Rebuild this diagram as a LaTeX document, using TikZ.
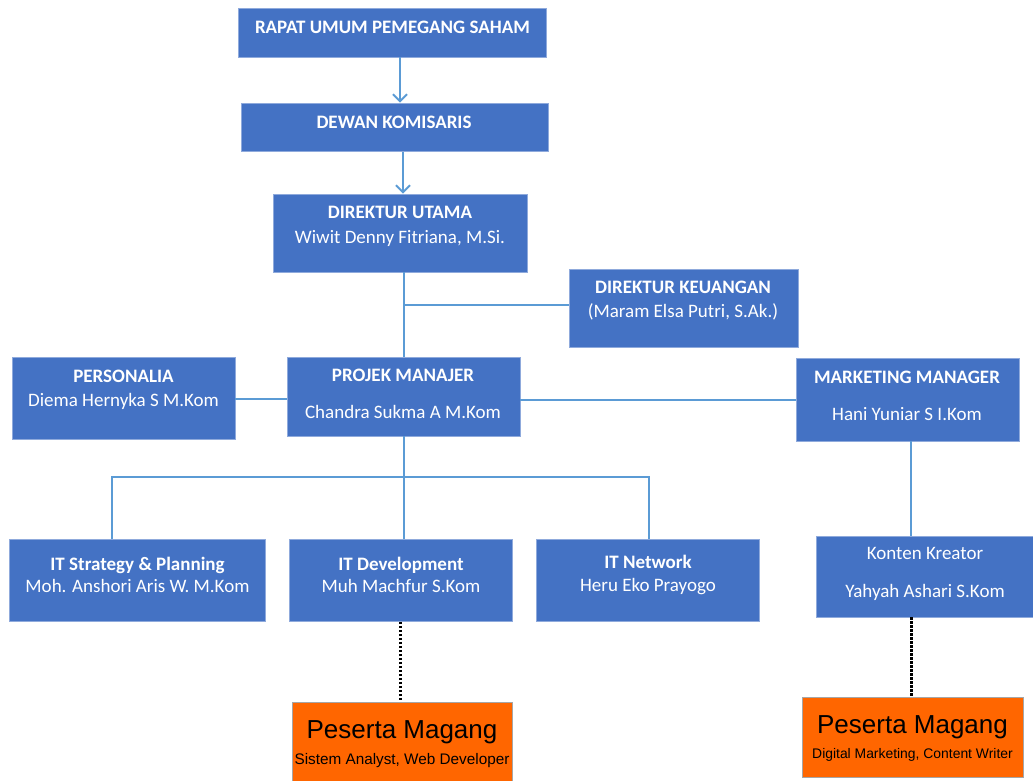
\documentclass[tikz,border=0pt]{standalone}
\usepackage{fontspec}
\setmainfont{Carlito}
\newfontfamily\arialf{Liberation Sans}
\usetikzlibrary{arrows.meta}
\definecolor{boxblue}{HTML}{4472C4}
\definecolor{boxedge}{HTML}{8FAADC}
\definecolor{linkblue}{HTML}{5B9BD5}
\definecolor{orangebox}{HTML}{FF6600}
\tikzset{
  box/.style={rectangle, fill=boxblue, draw=boxedge, line width=0.7pt, inner sep=0pt},
  obox/.style={rectangle, fill=orangebox, draw=gray!70, line width=0.8pt, inner sep=0pt},
  bt/.style={text=white, font=\fontsize{19}{21}\selectfont\bfseries, inner sep=0pt, text height=0.66em, text depth=0pt},
  rt/.style={text=white, font=\fontsize{19}{21}\selectfont, inner sep=0pt, text height=0.66em, text depth=0pt},
  pt1/.style={text=black, font=\arialf\fontsize{26}{28}\selectfont, inner sep=0pt, text height=0.72em, text depth=0pt},
  pta/.style={text=black, font=\arialf\fontsize{15.3}{17}\selectfont, inner sep=0pt, text height=0.72em, text depth=0pt},
  ptb/.style={text=black, font=\arialf\fontsize{13.9}{16}\selectfont, inner sep=0pt, text height=0.72em, text depth=0pt},
  conn/.style={draw=linkblue, line width=2pt},
  arr/.style={conn, -{Straight Barb[length=7pt,width=14pt,line width=2pt]}},
  dots/.style={draw=black, line width=2.8pt, dash pattern=on 2.2pt off 1.8pt}
}
\begin{document}
\begin{tikzpicture}[x=1pt,y=-1pt]
\useasboundingbox (0,0) rectangle (1033,780);
% boxes
\node[box, minimum width=308, minimum height=49] (rups) at (392,32.5) {};
\node[box, minimum width=307, minimum height=48.5] (dewan) at (394.5,127.25) {};
\node[box, minimum width=254, minimum height=78] (dirut) at (400,233) {};
\node[box, minimum width=229, minimum height=78] (dk) at (683.5,308) {};
\node[box, minimum width=223, minimum height=82] (pers) at (123.5,398) {};
\node[box, minimum width=233, minimum height=79] (projek) at (403.5,396.5) {};
\node[box, minimum width=223, minimum height=83] (mkt) at (907.5,399.5) {};
\node[box, minimum width=256, minimum height=82.5] (its) at (137.5,580.25) {};
\node[box, minimum width=222.5, minimum height=82.5] (itd) at (400.75,580.25) {};
\node[box, minimum width=222.5, minimum height=82] (itn) at (647.75,580) {};
\node[box, minimum width=217.5, minimum height=81] (konten) at (925.25,576.5) {};
\node[obox, minimum width=220, minimum height=80] (p1) at (402,742) {};
\node[obox, minimum width=221, minimum height=80] (p2) at (912.5,737) {};
% texts
\node[bt] (rupsT) at (392.5,30) {RAPAT UMUM PEMEGANG SAHAM};
\node[bt] (dewanT) at (394,125) {DEWAN KOMISARIS};
\node[bt] (dirutT) at (400,215.5) {DIREKTUR UTAMA};
\node[rt] (dirutN) at (400,240) {Wiwit Denny Fitriana, M.Si.};
\node[bt] (dkT) at (683,290) {DIREKTUR KEUANGAN};
\node[rt] (dkN) at (683,314.5) {(Maram Elsa Putri, S.Ak.)};
\node[bt] (persT) at (123.5,379) {PERSONALIA};
\node[rt] (persN) at (123.5,403) {Diema Hernyka S M.Kom};
\node[bt] (projekT) at (403,378) {PROJEK MANAJER};
\node[rt] (projekN) at (403,415.5) {Chandra Sukma A M.Kom};
\node[bt] (mktT) at (907,380) {MARKETING MANAGER};
\node[rt] (mktN) at (907,417) {Hani Yuniar S I.Kom};
\node[bt] (itsT) at (137.5,567) {IT Strategy \& Planning};
\node[rt] (itsN) at (137.5,589.5) {Moh. Anshori Aris W. M.Kom};
\node[bt] (itdT) at (401,567) {IT Development};
\node[rt] (itdN) at (401,589.5) {Muh Machfur S.Kom};
\node[bt] (itnT) at (648,565.5) {IT Network};
\node[rt] (itnN) at (648,588) {Heru Eko Prayogo};
\node[rt] (kontenT) at (925,556.5) {Konten Kreator};
\node[rt] (kontenN) at (925,594) {Yahyah Ashari S.Kom};
\node[pt1] (p1T) at (402,735) {Peserta Magang};
\node[pta] (p1N) at (402,761) {Sistem Analyst, Web Developer};
\node[pt1] (p2T) at (912.5,730) {Peserta Magang};
\node[ptb] (p2N) at (912.5,755) {Digital Marketing, Content Writer};
% connectors
\draw[arr] ([xshift=8pt]rups.south) -- ([xshift=8pt]rups.south |- dewan.north);
\draw[arr] ([xshift=8.5pt]dewan.south) -- ([xshift=8.5pt]dewan.south |- dirut.north);
\draw[conn] ([xshift=4pt]dirut.south) -- ([xshift=4pt]dirut.south |- projek.north);
\coordinate (jk) at (404,305);
\draw[conn] (jk) -- (dk.west |- jk);
\draw[conn] ([yshift=-1pt]pers.east) -- ([yshift=-1pt]pers.east -| projek.west);
\draw[conn] ([yshift=-3.5pt]projek.east) -- ([yshift=-3.5pt]projek.east -| mkt.west);
\coordinate (hbar) at (404,476.5);
\draw[conn] ([xshift=0.5pt]projek.south) -- ([xshift=0.5pt]projek.south |- itd.north);
\draw[conn] ([xshift=-26pt]its.north) |- (hbar) -| ([xshift=1.25pt]itn.north);
\draw[conn] ([xshift=3.5pt]mkt.south) -- ([xshift=3.5pt]mkt.south |- konten.north);
\draw[dots] (itd.south) -- (itd.south |- p1.north);
\draw[dots] ([xshift=-13.5pt]konten.south) -- ([xshift=-13.5pt]konten.south |- p2.north);
\end{tikzpicture}
\end{document}
